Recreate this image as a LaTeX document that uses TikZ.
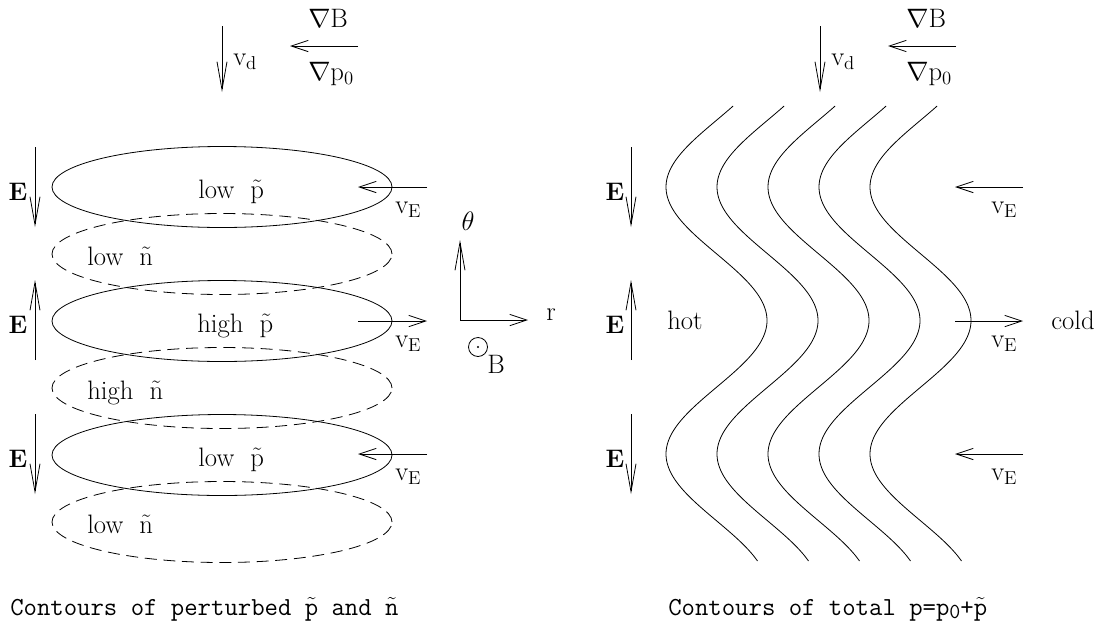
\RequirePackage{fix-cm}
\documentclass[tikz,border=0pt]{standalone}
\usepackage{fontspec}
\usetikzlibrary{arrows.meta,shapes.geometric}
\newcommand\lblf{\fontsize{20}{24}\selectfont\addfontfeatures{LetterSpace=10}}
\newcommand\capf{\ttfamily\fontsize{19.5}{23}\selectfont}
\newcommand\bigE{{\fontsize{19}{22}\selectfont\bfseries E}}
\tikzset{
  ln/.style={line width=0.6pt},
  vhead/.style={ln,-{Straight Barb[length=21pt,width=7.5pt]}},
  hhead/.style={ln,-{Straight Barb[length=12.75pt,width=8.5pt]}},
  solidell/.style={ellipse, draw, ln, minimum width=255pt, minimum height=60.75pt, inner sep=0pt},
  dashell/.style={solidell, dash pattern=on 9pt off 5pt},
  lbl/.style={inner sep=0pt, font=\lblf},
  elbl/.style={inner sep=0pt},
  captxt/.style={inner sep=0pt, font=\capf},
}
\begin{document}
\begin{tikzpicture}[x=0.75pt,y=-0.75pt]
\useasboundingbox (0,0) rectangle (1109,629);

% ---------- LEFT PANEL ----------
\coordinate (vdLs) at (222,26); \coordinate (vdLe) at (222,92);
\draw[vhead] (vdLs) -- (vdLe);
\node[lbl, anchor=base west] (vdL) at (233,65) {$\mathrm{v}_{\mathrm{d}}$};
\coordinate (gLs) at (358,46); \coordinate (gLe) at (290,46);
\draw[hhead] (gLs) -- (gLe);
\node[lbl, anchor=base west] (gBL) at (308,27) {$\nabla\mathrm{B}$};
\node[lbl, anchor=base west] (gpL) at (308,80) {$\nabla\mathrm{p}_0$};

% ellipses
\node[solidell] (p1) at (222,187) {};
\node[dashell]  (n1) at (222,254) {};
\node[solidell] (p2) at (222,321) {};
\node[dashell]  (n2) at (222,388) {};
\node[solidell] (p3) at (222,455) {};
\node[dashell]  (n3) at (222,522) {};
\node[lbl, anchor=base west] (tp1) at (198,198) {low\ \ $\tilde{\mathrm{p}}$};
\node[lbl, anchor=base west] (tn1) at (87,265) {low\ \ $\tilde{\mathrm{n}}$};
\node[lbl, anchor=base west] (tp2) at (197,332) {high\ \ $\tilde{\mathrm{p}}$};
\node[lbl, anchor=base west] (tn2) at (87,399) {high\ \ $\tilde{\mathrm{n}}$};
\node[lbl, anchor=base west] (tp3) at (198,466) {low\ \ $\tilde{\mathrm{p}}$};
\node[lbl, anchor=base west] (tn3) at (87,533) {low\ \ $\tilde{\mathrm{n}}$};

% E arrows left
\coordinate (EL1s) at (35,147); \coordinate (EL1e) at (35,227);
\coordinate (EL2s) at (35,360); \coordinate (EL2e) at (35,280);
\coordinate (EL3s) at (35,414); \coordinate (EL3e) at (35,494);
\draw[vhead] (EL1s) -- (EL1e);
\draw[vhead] (EL2s) -- (EL2e);
\draw[vhead] (EL3s) -- (EL3e);
\node[elbl, anchor=base] (EL1) at (18,200) {\bigE};
\node[elbl, anchor=base] (EL2) at (18,333) {\bigE};
\node[elbl, anchor=base] (EL3) at (18,467) {\bigE};

% vE arrows left
\coordinate (vL1s) at (427,187); \coordinate (vL1e) at (358,187);
\coordinate (vL2s) at (358,321); \coordinate (vL2e) at (427,321);
\coordinate (vL3s) at (427,454); \coordinate (vL3e) at (358,454);
\draw[hhead] (vL1s) -- (vL1e);
\draw[hhead] (vL2s) -- (vL2e);
\draw[hhead] (vL3s) -- (vL3e);
\node[lbl, anchor=base west] (vEL1) at (395,213) {$\mathrm{v}_{\mathrm{E}}$};
\node[lbl, anchor=base west] (vEL2) at (395,347) {$\mathrm{v}_{\mathrm{E}}$};
\node[lbl, anchor=base west] (vEL3) at (395,480) {$\mathrm{v}_{\mathrm{E}}$};

% axes
\coordinate (O) at (460,320);
\coordinate (th) at (460,240);
\coordinate (rr) at (528,320);
\draw[vhead] (O) -- (th);
\draw[hhead] (O) -- (rr);
\node[lbl] (thl) at (468,221) {$\theta$};
\node[lbl, anchor=base west] (rl) at (546,320) {r};
\node[circle, draw, ln, minimum size=14.25pt, inner sep=0pt] (odot) at (478,347) {};
\fill (odot.center) circle (0.8pt);
\node[lbl, anchor=base west] (Bl) at (487,373) {B};

\node[captxt, anchor=base west] (capL) at (10,615)
  {Contours of perturbed $\tilde{\mathtt{p}}$ and $\tilde{\mathtt{n}}$};

% ---------- RIGHT PANEL ----------
\coordinate (vdRs) at (820,26); \coordinate (vdRe) at (820,92);
\draw[vhead] (vdRs) -- (vdRe);
\node[lbl, anchor=base west] (vdR) at (831,65) {$\mathrm{v}_{\mathrm{d}}$};
\coordinate (gRs) at (956,46); \coordinate (gRe) at (888,46);
\draw[hhead] (gRs) -- (gRe);
\node[lbl, anchor=base west] (gBR) at (906,27) {$\nabla\mathrm{B}$};
\node[lbl, anchor=base west] (gpR) at (906,80) {$\nabla\mathrm{p}_0$};

% contours
\foreach \k in {0,...,4}{
  \draw[ln] plot[domain=106:561, samples=200, variable=\t]
    ({716.5+51*\k-50.5*cos((\t-187)/267*360)}, \t);
}

% E arrows right
\coordinate (ER1s) at (631,147); \coordinate (ER1e) at (631,227);
\coordinate (ER2s) at (631,360); \coordinate (ER2e) at (631,280);
\coordinate (ER3s) at (631,414); \coordinate (ER3e) at (631,494);
\draw[vhead] (ER1s) -- (ER1e);
\draw[vhead] (ER2s) -- (ER2e);
\draw[vhead] (ER3s) -- (ER3e);
\node[elbl, anchor=base] (ER1) at (615,200) {\bigE};
\node[elbl, anchor=base] (ER2) at (615,333) {\bigE};
\node[elbl, anchor=base] (ER3) at (615,467) {\bigE};

% vE arrows right
\coordinate (vR1s) at (1023,187); \coordinate (vR1e) at (955,187);
\coordinate (vR2s) at (955,321); \coordinate (vR2e) at (1023,321);
\coordinate (vR3s) at (1023,454); \coordinate (vR3e) at (955,454);
\draw[hhead] (vR1s) -- (vR1e);
\draw[hhead] (vR2s) -- (vR2e);
\draw[hhead] (vR3s) -- (vR3e);
\node[lbl, anchor=base west] (vER1) at (991,213) {$\mathrm{v}_{\mathrm{E}}$};
\node[lbl, anchor=base west] (vER2) at (991,347) {$\mathrm{v}_{\mathrm{E}}$};
\node[lbl, anchor=base west] (vER3) at (991,480) {$\mathrm{v}_{\mathrm{E}}$};

\node[lbl, anchor=base west] (hot) at (667,329) {hot};
\node[lbl, anchor=base west] (cold) at (1051,329) {cold};

\node[captxt, anchor=base west] (capR) at (668,615)
  {Contours of total p=p\raisebox{-0.35ex}{\fontsize{16}{16}\selectfont 0}+$\tilde{\mathtt{p}}$};
\end{tikzpicture}
\end{document}
